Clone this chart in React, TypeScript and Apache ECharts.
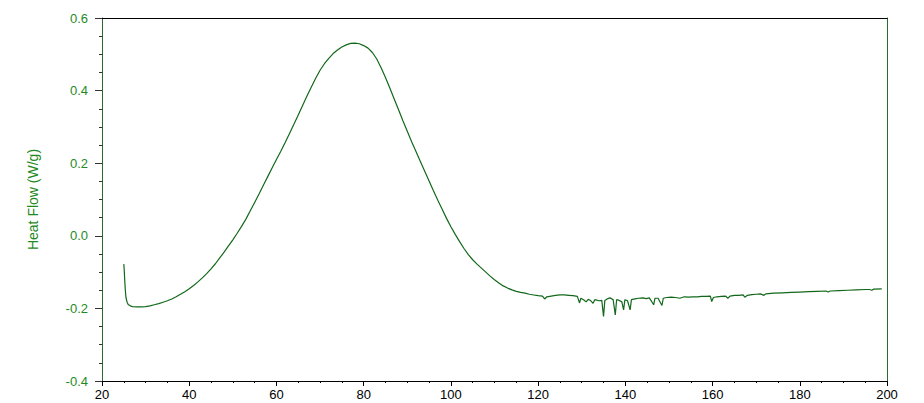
import React, { useEffect, useRef } from "react";
import * as echarts from "echarts";

const temperature: number[] = [
  25.0, 25.1, 25.2, 25.35, 25.5, 25.75, 26.0, 26.5, 27, 28, 29, 30, 31, 32, 33, 34, 35, 36, 37, 38, 39,
  40, 41, 42, 43, 44, 45, 46, 47, 48, 49, 50, 51, 52, 53, 54, 55, 56, 57, 58, 59,
  60, 61, 62, 63, 64, 65, 66, 67, 68, 69, 70, 71, 72, 73, 74, 75, 76, 77, 78, 79,
  80, 81, 82, 83, 84, 85, 86, 87, 88, 89, 90, 91, 92, 93, 94, 95, 96, 97, 98, 99,
  100, 101, 102, 103, 104, 105, 106, 107, 108, 109, 110, 111, 112, 113, 114, 115, 116, 117,
  118, 119, 120, 121, 121.5, 122, 123, 124, 125, 126, 127, 128, 129, 129.5, 129.8, 130.5, 131, 131.5,
  132, 132.6, 133, 134, 134.6, 135.0, 135.3, 136, 136.5, 137.2, 137.7, 138.0, 138.6, 139.2, 139.6,
  139.9, 140.5, 141.1, 141.4, 142.2, 143, 144, 144.8, 145.5, 146.5, 146.8, 147.5, 148.4, 148.7,
  149.5, 150.5, 151.5, 152.5, 153.5, 154.5, 155.5, 156.5, 157.5, 158.5, 159.5, 159.8, 160.2,
  161, 162, 163, 163.5, 164, 165, 166, 167, 167.4, 168, 169, 170, 171, 171.8, 172.2, 174, 176,
  178, 180, 182, 184, 186, 186.5, 187, 189, 191, 193, 195, 196, 196.5, 197, 198.8,
];

const heatFlow: number[] = [
  -0.078, -0.095, -0.12, -0.15, -0.17, -0.183, -0.189, -0.193, -0.195, -0.196, -0.196, -0.195, -0.193, -0.19, -0.187, -0.183, -0.179, -0.174, -0.168, -0.161, -0.154,
  -0.146, -0.137, -0.127, -0.116, -0.104, -0.091, -0.077, -0.061, -0.045, -0.028, -0.011, 0.007, 0.026, 0.046, 0.069, 0.092, 0.115, 0.139, 0.163, 0.187,
  0.21, 0.233, 0.257, 0.282, 0.307, 0.333, 0.359, 0.385, 0.41, 0.434, 0.456, 0.474, 0.489, 0.502, 0.512, 0.52, 0.526, 0.53, 0.531, 0.529,
  0.524, 0.517, 0.505, 0.487, 0.463, 0.436, 0.407, 0.377, 0.347, 0.317, 0.288, 0.259, 0.232, 0.205, 0.178, 0.151, 0.124, 0.098, 0.073, 0.048,
  0.025, 0.004, -0.016, -0.035, -0.052, -0.066, -0.078, -0.089, -0.1, -0.111, -0.121, -0.13, -0.138, -0.144, -0.149, -0.153, -0.156, -0.158,
  -0.161, -0.163, -0.165, -0.166, -0.174, -0.168, -0.166, -0.164, -0.163, -0.163, -0.164, -0.165, -0.167, -0.185, -0.172, -0.177, -0.182, -0.175,
  -0.178, -0.186, -0.176, -0.179, -0.178, -0.222, -0.178, -0.173, -0.171, -0.176, -0.218, -0.176, -0.178, -0.182, -0.204,
  -0.176, -0.179, -0.204, -0.176, -0.174, -0.172, -0.171, -0.173, -0.171, -0.19, -0.172, -0.172, -0.192, -0.172,
  -0.17, -0.169, -0.17, -0.172, -0.168, -0.169, -0.168, -0.168, -0.167, -0.167, -0.166, -0.181, -0.17,
  -0.168, -0.167, -0.166, -0.172, -0.166, -0.164, -0.164, -0.163, -0.169, -0.164, -0.162, -0.161, -0.16, -0.164, -0.16, -0.158, -0.157,
  -0.156, -0.155, -0.154, -0.153, -0.152, -0.155, -0.152, -0.151, -0.15, -0.149, -0.148, -0.148, -0.15, -0.147, -0.146,
];

const xTicks = { min: 20, max: 200, interval: 20 };
const yTicks = { min: -0.4, max: 0.6, interval: 0.2 };
const yAxisTitle = "Heat Flow (W/g)";

const GREEN = "#1f8a1f";
const LINE_GREEN = "#12681a";
const AXIS_GREEN = "#2a6a2a";
const FONT = "'Liberation Sans', Arial, sans-serif";

export default function App() {
  const ref = useRef<HTMLDivElement>(null);
  useEffect(() => {
    if (!ref.current) return;
    const chart = echarts.init(ref.current, undefined, { renderer: "svg" });
    const data = temperature.map((t, i) => [t, heatFlow[i]]);
    chart.setOption({
      animation: false,
      backgroundColor: "#ffffff",
      grid: { left: 102, right: 37, top: 18, bottom: 22, containLabel: false },
      xAxis: [
        {
          type: "value",
          min: xTicks.min,
          max: xTicks.max,
          interval: xTicks.interval,
          position: "bottom",
          axisLine: { show: true, onZero: false, lineStyle: { color: "#000", width: 1 } },
          axisTick: { show: true, length: 5, lineStyle: { color: "#000" } },
          minorTick: { show: true, splitNumber: 4, length: 2, lineStyle: { color: "#000" } },
          axisLabel: { color: "#000", fontSize: 13, fontFamily: FONT, margin: 7 },
          splitLine: { show: false },
        },
        {
          type: "value",
          min: xTicks.min,
          max: xTicks.max,
          position: "top",
          axisLine: { show: true, onZero: false, lineStyle: { color: "#000", width: 1 } },
          axisTick: { show: false },
          axisLabel: { show: false },
          splitLine: { show: false },
        },
      ],
      yAxis: [
        {
          type: "value",
          min: yTicks.min,
          max: yTicks.max,
          interval: yTicks.interval,
          position: "left",
          name: yAxisTitle,
          nameLocation: "middle",
          nameGap: 62,
          nameRotate: 90,
          nameTextStyle: { color: GREEN, fontSize: 14, fontFamily: FONT },
          axisLine: { show: true, onZero: false, lineStyle: { color: AXIS_GREEN, width: 1 } },
          axisTick: { show: true, length: 7, lineStyle: { color: "#333" } },
          minorTick: { show: true, splitNumber: 4, length: 3, lineStyle: { color: "#333" } },
          axisLabel: {
            color: GREEN,
            fontSize: 13,
            fontFamily: FONT,
            margin: 14,
            formatter: (v: number) => v.toFixed(1),
          },
          splitLine: { show: false },
        },
        {
          type: "value",
          min: yTicks.min,
          max: yTicks.max,
          position: "right",
          axisLine: { show: true, onZero: false, lineStyle: { color: AXIS_GREEN, width: 1 } },
          axisTick: { show: false },
          axisLabel: { show: false },
          splitLine: { show: false },
        },
      ],
      series: [
        {
          type: "line",
          data,
          xAxisIndex: 0,
          yAxisIndex: 0,
          showSymbol: false,
          symbol: "none",
          smooth: false,
          lineStyle: { color: LINE_GREEN, width: 1.2 },
          silent: true,
        },
      ],
    });
    return () => chart.dispose();
  }, []);
  return (
    <div
      ref={ref}
      style={{ position: "fixed", left: 0, top: 0, width: 924, height: 403, background: "#fff" }}
    />
  );
}
